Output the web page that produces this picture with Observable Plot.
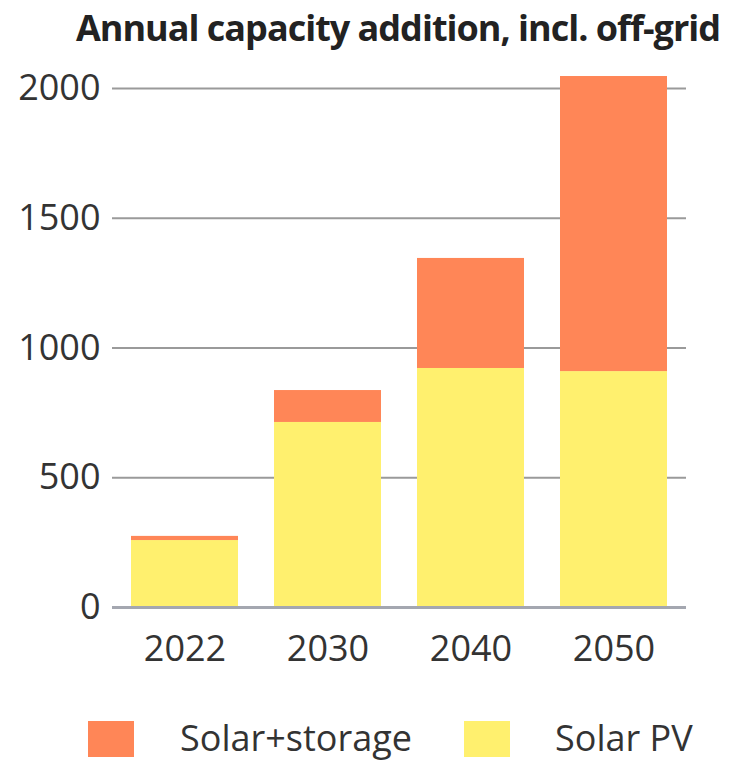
<!DOCTYPE html>
<html>
<head>
<meta charset="utf-8">
<script src="https://cdn.jsdelivr.net/npm/d3@7"></script>
<script src="https://cdn.jsdelivr.net/npm/@observablehq/plot@0.6"></script>
<style>
  html, body { margin: 0; padding: 0; background: #fff; }
  #wrap { position: relative; width: 731px; height: 764px; font-family: "Open Sans", sans-serif; color: #333; }
  #title { position: absolute; left: 0; width: 796px; top: 10px; text-align: center; font-weight: 700; font-size: 36px; line-height: 36px; letter-spacing: -1px; white-space: nowrap; color: #222; }
  #chart { position: absolute; left: 0; top: 52px; }
  #legend { position: absolute; left: 0; top: 714px; width: 731px; height: 50px; }
  .sw { position: absolute; top: 7px; width: 46px; height: 36px; }
  .lab { position: absolute; top: 0; font-size: 36px; line-height: 48px; white-space: nowrap; }
</style>
</head>
<body>
<div id="wrap">
  <div id="title">Annual capacity addition, incl. off-grid</div>
  <div id="chart"></div>
  <div id="legend"></div>
</div>
<script>
// Annual capacity additions by year, split into two series
const years = ["2022", "2030", "2040", "2050"];
const solarPV = [258, 713, 921, 909];
const solarStorage = [16, 123, 424, 1137];
const seriesNames = ["Solar+storage", "Solar PV"];
const seriesColors = ["#ff8657", "#fff06e"];
const yTicks = [0, 500, 1000, 1500, 2000];

// Long table: Solar PV rows first so they stack at the bottom
const rows = [
  ...years.map((year, i) => ({year, series: "Solar PV", value: solarPV[i]})),
  ...years.map((year, i) => ({year, series: "Solar+storage", value: solarStorage[i]}))
];

const chart = Plot.plot({
  width: 731,
  height: 630,
  marginLeft: 112,
  marginRight: 45,
  marginTop: 10,
  marginBottom: 75,
  style: {fontFamily: "Open Sans, sans-serif", color: "#333", background: "transparent"},
  x: {domain: years, paddingInner: 0.25, paddingOuter: 0.125},
  y: {domain: [0, 2100]},
  color: {domain: seriesNames, range: seriesColors},
  marks: [
    Plot.ruleY(yTicks.filter(d => d > 0), {stroke: "#9a9a9a", strokeWidth: 2}),
    Plot.barY(rows, {x: "year", y: "value", fill: "series"}),
    Plot.ruleY([0], {stroke: "#a4a7b0", strokeWidth: 3}),
    Plot.axisY({ticks: yTicks, tickFormat: d => String(d), tickSize: 0, tickPadding: 12, fontSize: 36, label: null}),
    Plot.axisX({tickSize: 0, tickPadding: 28, fontSize: 36, label: null})
  ]
});
document.getElementById("chart").appendChild(chart);

// Legend swatches below the chart
const legend = document.getElementById("legend");
const swatchX = [88, 464];
const labelX = [180, 555];
seriesNames.forEach((name, i) => {
  const sw = document.createElement("div");
  sw.className = "sw";
  sw.style.left = swatchX[i] + "px";
  sw.style.background = seriesColors[i];
  legend.appendChild(sw);
  const lab = document.createElement("div");
  lab.className = "lab";
  lab.style.left = labelX[i] + "px";
  lab.textContent = name;
  legend.appendChild(lab);
});
</script>
</body>
</html>
